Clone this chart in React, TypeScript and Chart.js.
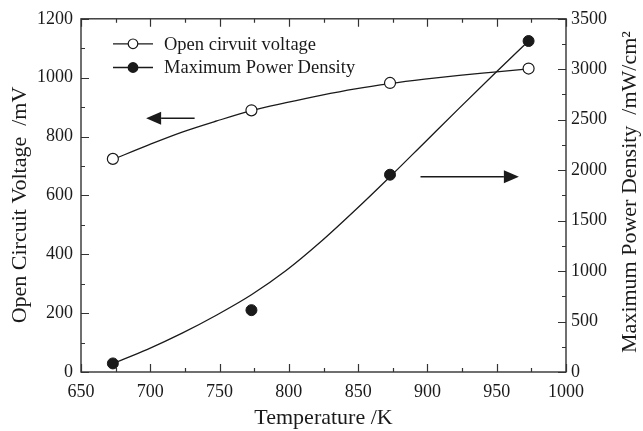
import React, { useEffect, useRef } from "react";
import { Chart, registerables } from "chart.js";

Chart.register(...registerables);

// ---- data ----
const temperatures = [673, 773, 873, 973];
const openCircuitVoltage = [724, 889, 982, 1031];
const maxPowerDensity = [85, 613, 1955, 3280];

// fitted curves
const fitTemperatures = [673, 698, 723, 748, 773, 798, 823, 848, 873, 898, 923, 948, 973];
const ocvFit = [722, 770, 815, 853, 888, 915, 940, 962, 980, 995, 1008, 1019, 1030];
const powerFit = [85, 225, 385, 565, 765, 1005, 1290, 1605, 1935, 2275, 2615, 2950, 3280];

// axis ranges / ticks
const xRange = [650, 1000];
const xMajor = 50;
const xMinor = 25;
const yLeftRange = [0, 1200];
const yLeftMajor = 200;
const yLeftMinor = 100;
const yRightRange = [0, 3500];
const yRightMajor = 500;
const yRightMinor = 250;

// arrows (data coordinates)
const leftArrow = { from: 732, to: 697, y: 862 };
const rightArrow = { from: 895, to: 966, y: 1935 };

const legendLabels = ["Open cirvuit voltage", "Maximum Power Density"];
const xTitle = "Temperature /K";
const yLeftTitle = "Open Circuit Voltage  /mV";
const yRightTitle = "Maximum Power Density  /mW/cm\u00B2";

const FONT = "'Liberation Serif', 'Times New Roman', serif";
const INK = "#1a1a1a";

function drawArrow(ctx: CanvasRenderingContext2D, x1: number, x2: number, y: number) {
  const dir = Math.sign(x2 - x1);
  const headLen = 15;
  const half = 6.5;
  ctx.beginPath();
  ctx.moveTo(x1, y);
  ctx.lineTo(x2 - dir * headLen, y);
  ctx.lineWidth = 1.6;
  ctx.strokeStyle = INK;
  ctx.stroke();
  ctx.beginPath();
  ctx.moveTo(x2, y);
  ctx.lineTo(x2 - dir * headLen, y - half);
  ctx.lineTo(x2 - dir * headLen, y + half);
  ctx.closePath();
  ctx.fillStyle = INK;
  ctx.fill();
}

const decorPlugin = {
  id: "decor",
  afterDraw(chart: any) {
    const { ctx, chartArea } = chart;
    const { left, right, top, bottom } = chartArea;
    const xs = chart.scales.x;
    const yl = chart.scales.y;
    const yr = chart.scales.y1;
    ctx.save();

    // frame
    ctx.strokeStyle = "#333";
    ctx.lineWidth = 1.4;
    ctx.strokeRect(left, top, right - left, bottom - top);

    // ticks (inward)
    ctx.lineWidth = 1.2;
    ctx.beginPath();
    for (let v = xRange[0]; v <= xRange[1] + 0.001; v += xMinor) {
      const px = Math.round(xs.getPixelForValue(v)) + 0.5;
      const major = Math.abs((v - xRange[0]) % xMajor) < 0.001;
      const len = major ? 8 : 4;
      ctx.moveTo(px, bottom);
      ctx.lineTo(px, bottom - len);
      ctx.moveTo(px, top);
      ctx.lineTo(px, top + len);
    }
    for (let v = yLeftRange[0]; v <= yLeftRange[1] + 0.001; v += yLeftMinor) {
      const py = Math.round(yl.getPixelForValue(v)) + 0.5;
      const major = Math.abs(v % yLeftMajor) < 0.001;
      const len = major ? 8 : 4;
      ctx.moveTo(left, py);
      ctx.lineTo(left + len, py);
    }
    for (let v = yRightRange[0]; v <= yRightRange[1] + 0.001; v += yRightMinor) {
      const py = Math.round(yr.getPixelForValue(v)) + 0.5;
      const major = Math.abs(v % yRightMajor) < 0.001;
      const len = major ? 8 : 4;
      ctx.moveTo(right, py);
      ctx.lineTo(right - len, py);
    }
    ctx.stroke();

    // arrows
    drawArrow(ctx, xs.getPixelForValue(leftArrow.from), xs.getPixelForValue(leftArrow.to), yl.getPixelForValue(leftArrow.y));
    drawArrow(ctx, xs.getPixelForValue(rightArrow.from), xs.getPixelForValue(rightArrow.to), yr.getPixelForValue(rightArrow.y));

    // legend
    const rows = [top + 25, top + 48.7];
    ctx.font = `18.5px ${FONT}`;
    ctx.textBaseline = "middle";
    ctx.textAlign = "left";
    rows.forEach((ry, i) => {
      ctx.beginPath();
      ctx.moveTo(left + 32, ry);
      ctx.lineTo(left + 72, ry);
      ctx.lineWidth = 1.3;
      ctx.strokeStyle = INK;
      ctx.stroke();
      ctx.beginPath();
      ctx.arc(left + 52, ry, 4.8, 0, Math.PI * 2);
      ctx.fillStyle = i === 0 ? "#fff" : INK;
      ctx.fill();
      ctx.lineWidth = 1.2;
      ctx.stroke();
      ctx.fillStyle = INK;
      ctx.fillText(legendLabels[i], left + 83, ry + 1);
    });

    // axis titles
    ctx.font = `22px ${FONT}`;
    ctx.fillStyle = INK;
    ctx.textAlign = "center";
    ctx.textBaseline = "alphabetic";
    ctx.fillText(xTitle, (left + right) / 2, 424);

    ctx.save();
    ctx.translate(26, 205);
    ctx.rotate(-Math.PI / 2);
    ctx.fillText(yLeftTitle, 0, 0);
    ctx.restore();

    ctx.save();
    ctx.translate(636, 192);
    ctx.rotate(-Math.PI / 2);
    ctx.fillText(yRightTitle, 0, 0);
    ctx.restore();

    ctx.restore();
  },
};

const plain = (v: any) => String(v);

export default function App() {
  const canvasRef = useRef<HTMLCanvasElement | null>(null);

  useEffect(() => {
    const canvas = canvasRef.current;
    if (!canvas) return;
    const tickFont = { family: FONT, size: 18 };

    const chart = new Chart(canvas, {
      type: "scatter",
      data: {
        datasets: [
          {
            label: legendLabels[0],
            data: temperatures.map((t, i) => ({ x: t, y: openCircuitVoltage[i] })),
            yAxisID: "y",
            showLine: false,
            pointRadius: 5.5,
            pointBackgroundColor: "#fff",
            pointBorderColor: INK,
            pointBorderWidth: 1.2,
          },
          {
            label: legendLabels[1],
            data: temperatures.map((t, i) => ({ x: t, y: maxPowerDensity[i] })),
            yAxisID: "y1",
            showLine: false,
            pointRadius: 5.5,
            pointBackgroundColor: INK,
            pointBorderColor: INK,
            pointBorderWidth: 1,
          },
          {
            label: "ocv fit",
            data: fitTemperatures.map((t, i) => ({ x: t, y: ocvFit[i] })),
            yAxisID: "y",
            showLine: true,
            pointRadius: 0,
            borderColor: INK,
            borderWidth: 1.3,
            cubicInterpolationMode: "monotone",
          },
          {
            label: "power fit",
            data: fitTemperatures.map((t, i) => ({ x: t, y: powerFit[i] })),
            yAxisID: "y1",
            showLine: true,
            pointRadius: 0,
            borderColor: INK,
            borderWidth: 1.3,
            cubicInterpolationMode: "monotone",
          },
        ],
      },
      options: {
        responsive: false,
        animation: false,
        devicePixelRatio: 1,
        layout: { padding: { top: 14, left: 0, right: 0, bottom: 0 } },
        plugins: { legend: { display: false }, tooltip: { enabled: false } },
        scales: {
          x: {
            type: "linear",
            min: xRange[0],
            max: xRange[1],
            grid: { display: false, drawTicks: false },
            border: { display: false },
            ticks: { stepSize: xMajor, font: tickFont, color: INK, padding: 9, maxRotation: 0, callback: plain },
            afterFit: (s: any) => {
              s.height = 59;
            },
          },
          y: {
            type: "linear",
            position: "left",
            min: yLeftRange[0],
            max: yLeftRange[1],
            grid: { display: false, drawTicks: false },
            border: { display: false },
            ticks: { stepSize: yLeftMajor, font: tickFont, color: INK, padding: 8, callback: plain },
            afterFit: (s: any) => {
              s.width = 81;
            },
          },
          y1: {
            type: "linear",
            position: "right",
            min: yRightRange[0],
            max: yRightRange[1],
            grid: { display: false, drawTicks: false },
            border: { display: false },
            ticks: { stepSize: yRightMajor, font: tickFont, color: INK, padding: 5, callback: plain },
            afterFit: (s: any) => {
              s.width = 77;
            },
          },
        },
      },
      plugins: [decorPlugin],
    } as any);

    return () => chart.destroy();
  }, []);

  return (
    <div style={{ position: "fixed", left: 0, top: 0, width: 643, height: 431, background: "#fff" }}>
      <canvas ref={canvasRef} width={643} height={431} style={{ display: "block" }} />
    </div>
  );
}
